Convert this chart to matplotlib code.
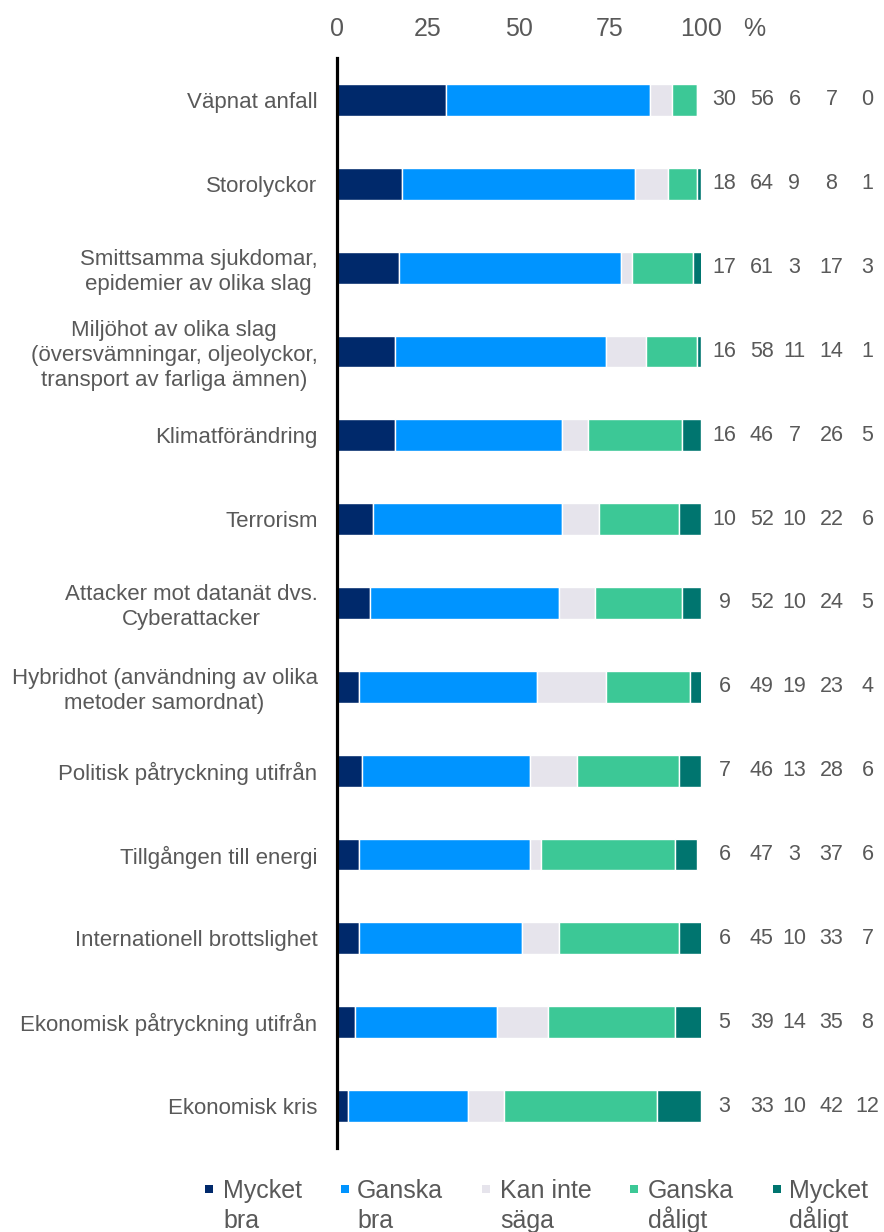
import matplotlib
matplotlib.use("Agg")
import matplotlib.pyplot as plt
from matplotlib.patches import Rectangle

plt.rcParams['font.family'] = ['Liberation Sans', 'DejaVu Sans']

categories = [
    "Väpnat anfall",
    "Storolyckor",
    "Smittsamma sjukdomar,\nepidemier av olika slag",
    "Miljöhot av olika slag\n(översvämningar, oljeolyckor,\ntransport av farliga ämnen)",
    "Klimatförändring",
    "Terrorism",
    "Attacker mot datanät dvs.\nCyberattacker",
    "Hybridhot (användning av olika\nmetoder samordnat)",
    "Politisk påtryckning utifrån",
    "Tillgången till energi",
    "Internationell brottslighet",
    "Ekonomisk påtryckning utifrån",
    "Ekonomisk kris",
]
mycket_bra = [30, 18, 17, 16, 16, 10, 9, 6, 7, 6, 6, 5, 3]
ganska_bra = [56, 64, 61, 58, 46, 52, 52, 49, 46, 47, 45, 39, 33]
kan_inte = [6, 9, 3, 11, 7, 10, 10, 19, 13, 3, 10, 14, 10]
ganska_daligt = [7, 8, 17, 14, 26, 22, 24, 23, 28, 37, 33, 35, 42]
mycket_daligt = [0, 1, 3, 1, 5, 6, 5, 4, 6, 6, 7, 8, 12]

series_names = ["Mycket\nbra", "Ganska\nbra", "Kan inte\nsäga", "Ganska\ndåligt", "Mycket\ndåligt"]
series = [mycket_bra, ganska_bra, kan_inte, ganska_daligt, mycket_daligt]
colors = ["#00296B", "#0094FF", "#E6E4EC", "#3CC896", "#00756F"]
ticks = [0, 25, 50, 75, 100]

W, H = 884, 1232
fig = plt.figure(figsize=(W / 100, H / 100), dpi=100)
ax = fig.add_axes([337 / W, 1 - 1148 / H, 363.6 / W, (1148 - 58) / H])

text_color = "#595959"
y = list(range(len(categories)))
left = [0] * len(categories)
for vals, col in zip(series, colors):
    ax.barh(y, vals, left=left, height=0.38, color=col, edgecolor="white", linewidth=1.0)
    left = [l + v for l, v in zip(left, vals)]

ax.set_xlim(0, 100)
ax.set_ylim(len(categories) - 0.5, -0.5)

ax.xaxis.tick_top()
ax.set_xticks(ticks)
ax.set_xticklabels([str(t) for t in ticks])
ax.tick_params(axis="x", length=0, pad=12, labelsize=18, labelcolor=text_color)
ax.set_yticks(y)
ax.set_yticklabels(categories, multialignment="center", linespacing=1.25)
ax.tick_params(axis="y", length=0, pad=14, labelsize=16, labelcolor=text_color)

for s in ["top", "right", "bottom"]:
    ax.spines[s].set_visible(False)
ax.spines["left"].set_linewidth(2.3)
ax.spines["left"].set_color("black")

fig.text(754 / W, 1 - 36 / H, "%", ha="center", va="baseline", fontsize=18, color=text_color)

col_x = [106.6, 116.8, 125.8, 136.0, 145.9]
for i in y:
    for cx, vals in zip(col_x, series):
        ax.text(cx, i, str(vals[i]), ha="center", va="center", fontsize=15.5,
                color=text_color, clip_on=False)

# legend drawn manually
marker_x = [205, 341, 482, 630, 773]
text_x = [223, 357, 500, 648, 789]
for mx, tx, name, col in zip(marker_x, text_x, series_names, colors):
    fig.patches.append(Rectangle((mx / W, 1 - 1193 / H), 8 / W, 8 / H, transform=fig.transFigure,
                                 facecolor=col, edgecolor="none"))
    lines = name.split("\n")
    for k, line in enumerate(lines):
        fig.text(tx / W, 1 - (1198 + 30 * k) / H, line, ha="left", va="baseline",
                 fontsize=18, color=text_color)

fig.savefig("out.png", dpi=100)
